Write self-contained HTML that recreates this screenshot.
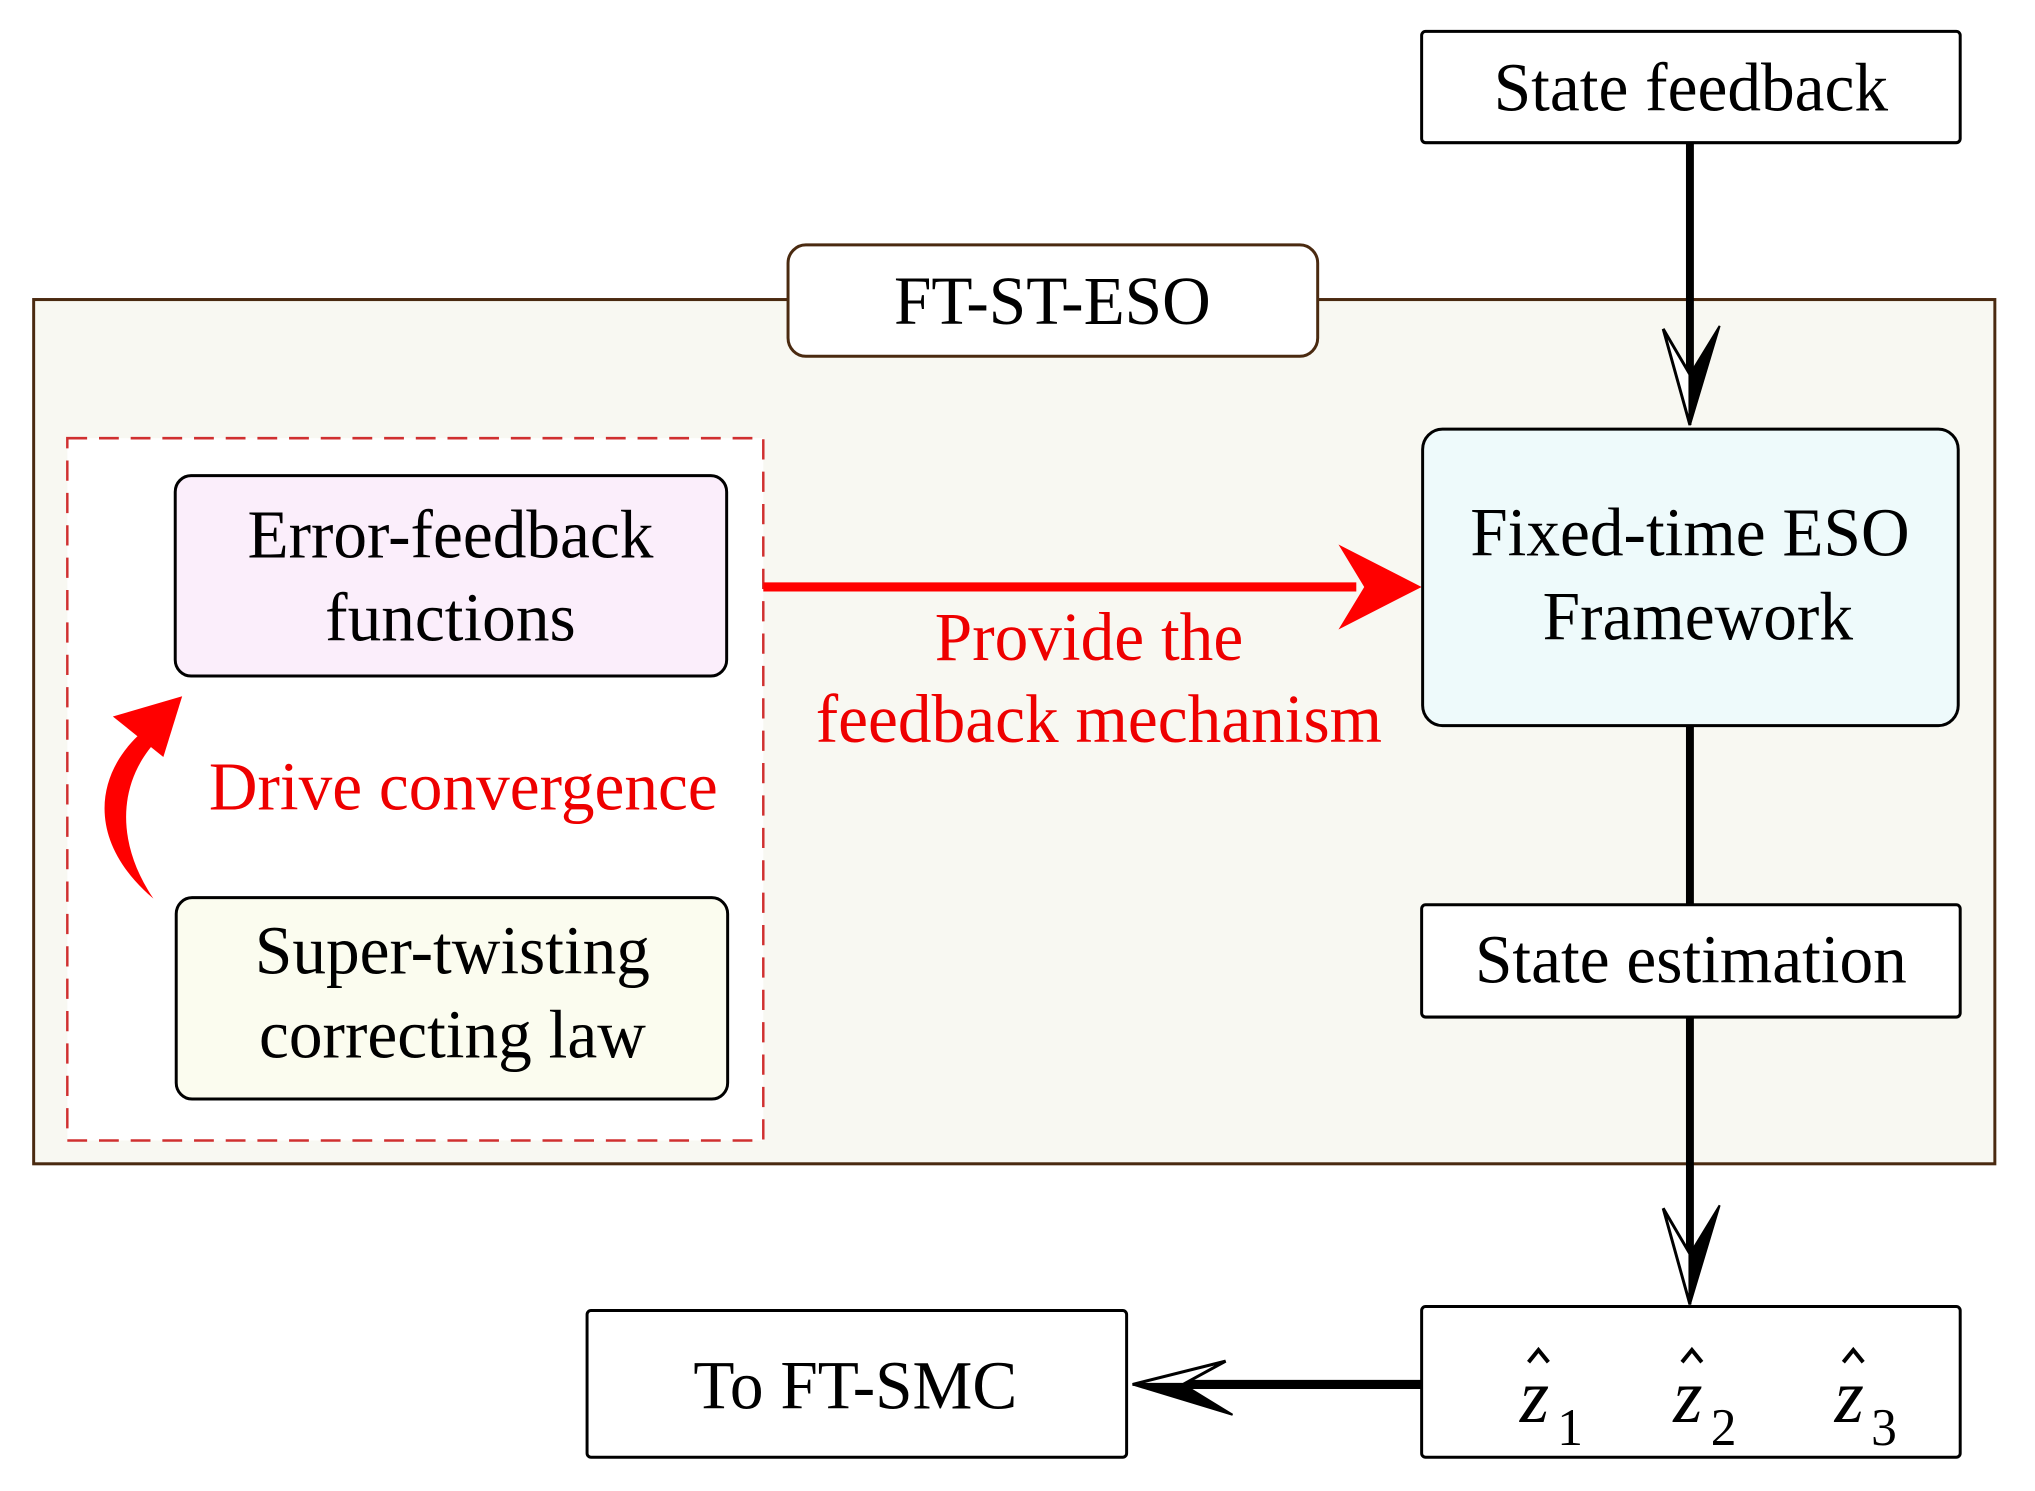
<!DOCTYPE html>
<html><head><meta charset="utf-8"><style>
html,body{margin:0;padding:0;background:#fff;}
svg{display:block;}
text{font-family:"Liberation Serif",serif;}
</style></head><body>
<svg width="2035" height="1491" viewBox="0 0 2035 1491" xmlns="http://www.w3.org/2000/svg">
<g transform="scale(0.99,1.012)">
<rect x="34" y="296" width="1981" height="854" fill="#f8f8f2" stroke="#4a2a10" stroke-width="3"/>
<rect x="68" y="433" width="703" height="694" fill="#fff" stroke="#d03030" stroke-width="2.5" stroke-dasharray="20,12"/>
<line x1="1707" y1="141" x2="1707" y2="390" stroke="#000" stroke-width="8"/>
<line x1="1707" y1="717" x2="1707" y2="894" stroke="#000" stroke-width="8"/>
<line x1="1707" y1="1005" x2="1707" y2="1260" stroke="#000" stroke-width="8"/>
<polygon points="1707,420 1680,325 1707,370" fill="#fff" stroke="#000" stroke-width="3"/>
<polygon points="1707,420 1707,370 1737,322" fill="#000" stroke="#000" stroke-width="2"/>
<polygon points="1707,1289 1680,1194 1707,1239" fill="#fff" stroke="#000" stroke-width="3"/>
<polygon points="1707,1289 1707,1239 1737,1191" fill="#000" stroke="#000" stroke-width="2"/>
<line x1="1436" y1="1368" x2="1190" y2="1368" stroke="#000" stroke-width="9"/>
<polygon points="1144,1368 1238,1345 1195,1368" fill="#fff" stroke="#000" stroke-width="3"/>
<polygon points="1144,1368 1195,1368 1245,1398" fill="#000" stroke="#000" stroke-width="2"/>
<line x1="771" y1="580" x2="1370" y2="580" stroke="#f00" stroke-width="9"/>
<polygon points="1436,580 1352,538 1378,580 1352,622" fill="#f00"/>
<path d="M155,888 C85,830 95,760 150,718 L160,730 C120,770 115,830 155,888 Z" fill="#f00"/>
<polygon points="184,688 114,708 165,748" fill="#f00"/>
<rect x="1436" y="31" width="544" height="110" rx="4" fill="#fff" stroke="#000" stroke-width="3"/>
<text x="1708" y="109" font-size="68" text-anchor="middle">State feedback</text>
<rect x="796" y="242" width="535" height="110" rx="18" fill="#fff" stroke="#4a2a10" stroke-width="3"/>
<text x="1063" y="320" font-size="68" text-anchor="middle">FT-ST-ESO</text>
<rect x="177" y="470" width="557" height="198" rx="16" fill="#fbeefb" stroke="#000" stroke-width="3"/>
<text x="455" y="551" font-size="68" text-anchor="middle">Error-feedback</text>
<text x="455" y="633" font-size="68" text-anchor="middle">functions</text>
<rect x="178" y="887" width="557" height="199" rx="16" fill="#fbfcef" stroke="#000" stroke-width="3"/>
<text x="457" y="962" font-size="68" text-anchor="middle">Super-twisting</text>
<text x="457" y="1045" font-size="68" text-anchor="middle">correcting law</text>
<rect x="1437" y="424" width="541" height="293" rx="20" fill="#eefafb" stroke="#000" stroke-width="3"/>
<text x="1707" y="549" font-size="68" text-anchor="middle">Fixed-time ESO</text>
<text x="1715" y="632" font-size="68" text-anchor="middle">Framework</text>
<rect x="1436" y="894" width="544" height="111" rx="4" fill="#fff" stroke="#000" stroke-width="3"/>
<text x="1708" y="971" font-size="68" text-anchor="middle">State estimation</text>
<rect x="1436" y="1291" width="544" height="149" rx="4" fill="#fff" stroke="#000" stroke-width="3"/>
<g font-size="76" font-style="italic" text-anchor="middle">
<text x="1550" y="1405">z</text><text x="1705" y="1405">z</text><text x="1868" y="1405">z</text>
</g>
<g stroke="#000" stroke-width="4" fill="none">
<polyline points="1544,1346 1554,1334 1564,1346"/>
<polyline points="1699,1346 1709,1334 1719,1346"/>
<polyline points="1862,1346 1872,1334 1882,1346"/>
</g>
<g font-size="52">
<text x="1573" y="1428">1</text><text x="1728" y="1428">2</text><text x="1890" y="1428">3</text>
</g>
<rect x="593" y="1295" width="545" height="145" rx="4" fill="#fff" stroke="#000" stroke-width="3"/>
<text x="864" y="1392" font-size="68" text-anchor="middle">To FT-SMC</text>
<g fill="#ee0000" font-size="68" text-anchor="middle">
<text x="1100" y="652">Provide the</text>
<text x="1110" y="733">feedback mechanism</text>
<text x="468" y="800">Drive convergence</text>
</g>
</g>
</svg>
</body></html>
